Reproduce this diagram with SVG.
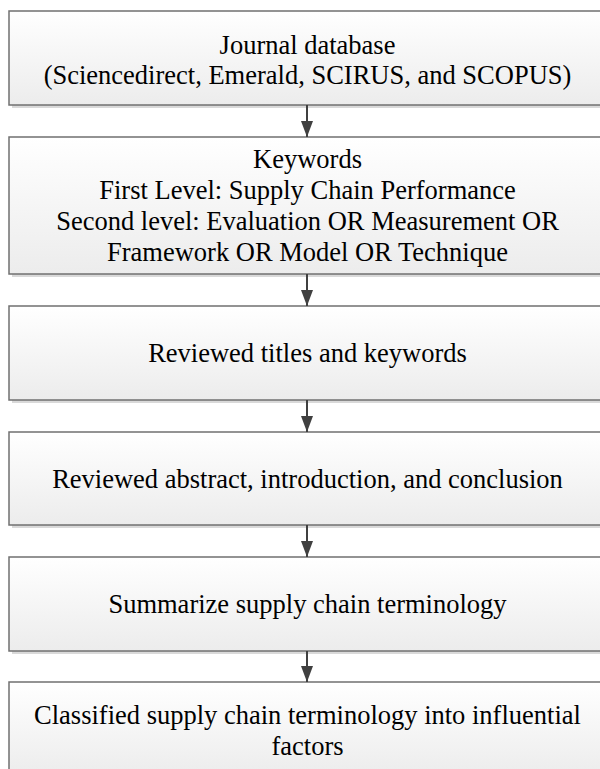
<svg xmlns="http://www.w3.org/2000/svg" width="600" height="769" viewBox="0 0 600 769">
<defs>
<linearGradient id="g" x1="0" y1="0" x2="0" y2="1">
<stop offset="0" stop-color="#ffffff"/>
<stop offset="1" stop-color="#ececec"/>
</linearGradient>
<marker id="ah" markerWidth="16" markerHeight="12" refX="16" refY="6" orient="auto" markerUnits="userSpaceOnUse" viewBox="0 0 16 12">
<path d="M0,0 L16,6 L0,12 Z" fill="#404040"/>
</marker>
</defs>
<style>
.sh{fill:#d9d9d9}
.bx{fill:url(#g);stroke:#707070;stroke-width:1.5}
.t{font-family:'Liberation Serif',Tinos,'Times New Roman',serif;font-size:26.5px;fill:#000;text-anchor:middle}
.c{stroke:#404040;stroke-width:2;fill:none}
</style>
<rect width="600" height="769" fill="#fff"/>
<g id="n1">
<rect class="sh" x="12" y="14" width="600" height="94"/>
<rect class="bx" x="9" y="11" width="600" height="94"/>
<text class="t" x="307.5" y="53.5">Journal database</text>
<text class="t" x="307.5" y="83.5">(Sciencedirect, Emerald, SCIRUS, and SCOPUS)</text>
</g>
<g id="n2">
<rect class="sh" x="12" y="140" width="600" height="137"/>
<rect class="bx" x="9" y="137" width="600" height="137"/>
<text class="t" x="307.5" y="167.5">Keywords</text>
<text class="t" x="307.5" y="199">First Level: Supply Chain Performance</text>
<text class="t" x="307.5" y="230">Second level: Evaluation OR Measurement OR</text>
<text class="t" x="307.5" y="261">Framework OR Model OR Technique</text>
</g>
<g id="n3">
<rect class="sh" x="12" y="309" width="600" height="94"/>
<rect class="bx" x="9" y="306" width="600" height="94"/>
<text class="t" x="307.5" y="361.5">Reviewed titles and keywords</text>
</g>
<g id="n4">
<rect class="sh" x="12" y="435" width="600" height="93"/>
<rect class="bx" x="9" y="432" width="600" height="93"/>
<text class="t" x="307.5" y="487.5">Reviewed abstract, introduction, and conclusion</text>
</g>
<g id="n5">
<rect class="sh" x="12" y="560" width="600" height="94"/>
<rect class="bx" x="9" y="557" width="600" height="94"/>
<text class="t" x="307.5" y="612.5">Summarize supply chain terminology</text>
</g>
<g id="n6">
<rect class="sh" x="12" y="685" width="600" height="94"/>
<rect class="bx" x="9" y="682" width="600" height="94"/>
<text class="t" x="307.5" y="723.5">Classified supply chain terminology into influential</text>
<text class="t" x="307.5" y="754.5">factors</text>
</g>
<g id="connectors">
<line class="c" x1="307" y1="105" x2="307" y2="137" marker-end="url(#ah)"/>
<line class="c" x1="307" y1="274" x2="307" y2="306" marker-end="url(#ah)"/>
<line class="c" x1="307" y1="400" x2="307" y2="432" marker-end="url(#ah)"/>
<line class="c" x1="307" y1="525" x2="307" y2="557" marker-end="url(#ah)"/>
<line class="c" x1="307" y1="651" x2="307" y2="682" marker-end="url(#ah)"/>
</g>
</svg>
